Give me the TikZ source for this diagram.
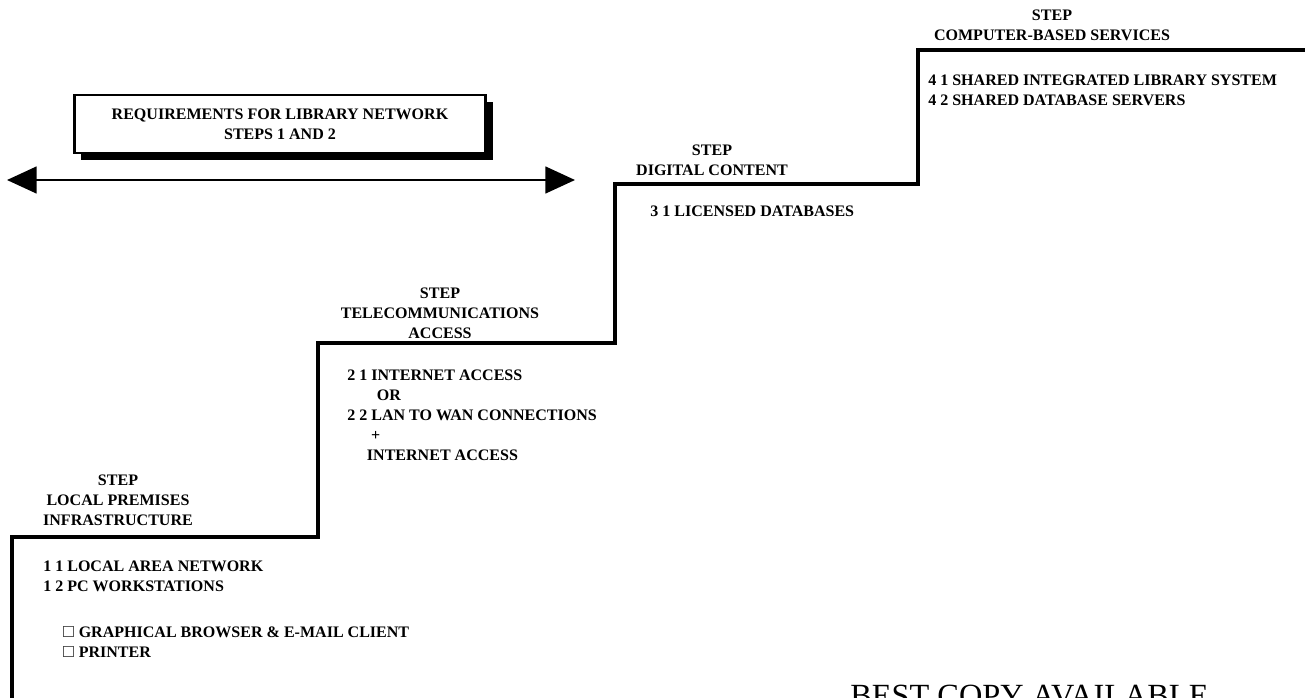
\documentclass[tikz,border=0pt]{standalone}
\usepackage{fontspec}
\setmainfont{Liberation Serif}
\usepackage{amssymb}
\usetikzlibrary{arrows.meta,shadows}

\newcommand{\stepfont}{\fontsize{11.4}{14.2}\selectfont\bfseries}

\tikzset{
  steplabel/.style={align=center, inner sep=0pt, font=\stepfont},
  itemlist/.style={align=left, anchor=north west, inner sep=0pt, font=\stepfont},
  stair/.style={line width=2.8pt, line join=miter},
  reqbox/.style={draw, line width=2pt, fill=white, align=center, font=\stepfont,
    minimum width=10.275cm, minimum height=1.45cm,
    drop shadow={shadow xshift=5pt, shadow yshift=-5pt, opacity=1, fill=black}},
  bigarrow/.style={line width=1.4pt,
    {Triangle[length=21pt,width=19pt]}-{Triangle[length=21pt,width=19pt]}}
}

\begin{document}
\begin{tikzpicture}[x=0.025cm, y=-0.025cm]
            \useasboundingbox (0,0) rectangle (1305,698);
            \clip (0,0) rectangle (1305,698);

            %disegna la scala
            \draw[stair] (12,698) -- (12,537) -- (318,537) -- (318,343) -- (615,343)
                -- (615,184) -- (918,184) -- (918,50) -- (1305,50);

            %riquadro dei requisiti e freccia
            \node[reqbox] (req) at (280,124) {REQUIREMENTS FOR LIBRARY NETWORK\\STEPS 1 AND 2};
            \coordinate (arrL) at (7,180);
            \coordinate (arrR) at (575,180);
            \draw[bigarrow] (arrL) -- (arrR);

            %gradino 1
            \node[steplabel] (lbl1) at (118,500) {STEP\\LOCAL PREMISES\\INFRASTRUCTURE};
            \node[itemlist] (items1) at (43,560.7) {1 1 LOCAL AREA NETWORK\\1 2 PC WORKSTATIONS};
            \node[itemlist] (bullets1) at (62,626.7) {$\square$ GRAPHICAL BROWSER \& E-MAIL CLIENT\\$\square$ PRINTER};

            %gradino 2
            \node[steplabel] (lbl2) at (440,313) {STEP\\TELECOMMUNICATIONS\\ACCESS};
            \node[itemlist] (items2) at (347,369.7) {2 1 INTERNET ACCESS\\\hspace*{21pt}OR\\2 2 LAN TO WAN CONNECTIONS\\\hspace*{17pt}+\\\hspace*{14pt}INTERNET ACCESS};

            %gradino 3
            \node[steplabel] (lbl3) at (712,160) {STEP\\DIGITAL CONTENT};
            \node[itemlist] (items3) at (650,205.7) {3 1 LICENSED DATABASES};

            %gradino 4
            \node[steplabel] (lbl4) at (1052,25) {STEP\\COMPUTER-BASED SERVICES};
            \node[itemlist] (items4) at (928,74.7) {4 1 SHARED INTEGRATED LIBRARY SYSTEM\\4 2 SHARED DATABASE SERVERS};

            %timbro in basso
            \node[anchor=north west, inner sep=0pt, font=\fontsize{23}{23}\selectfont] (stamp) at (850,685) {BEST COPY AVAILABLE};
        \end{tikzpicture}
\end{document}
